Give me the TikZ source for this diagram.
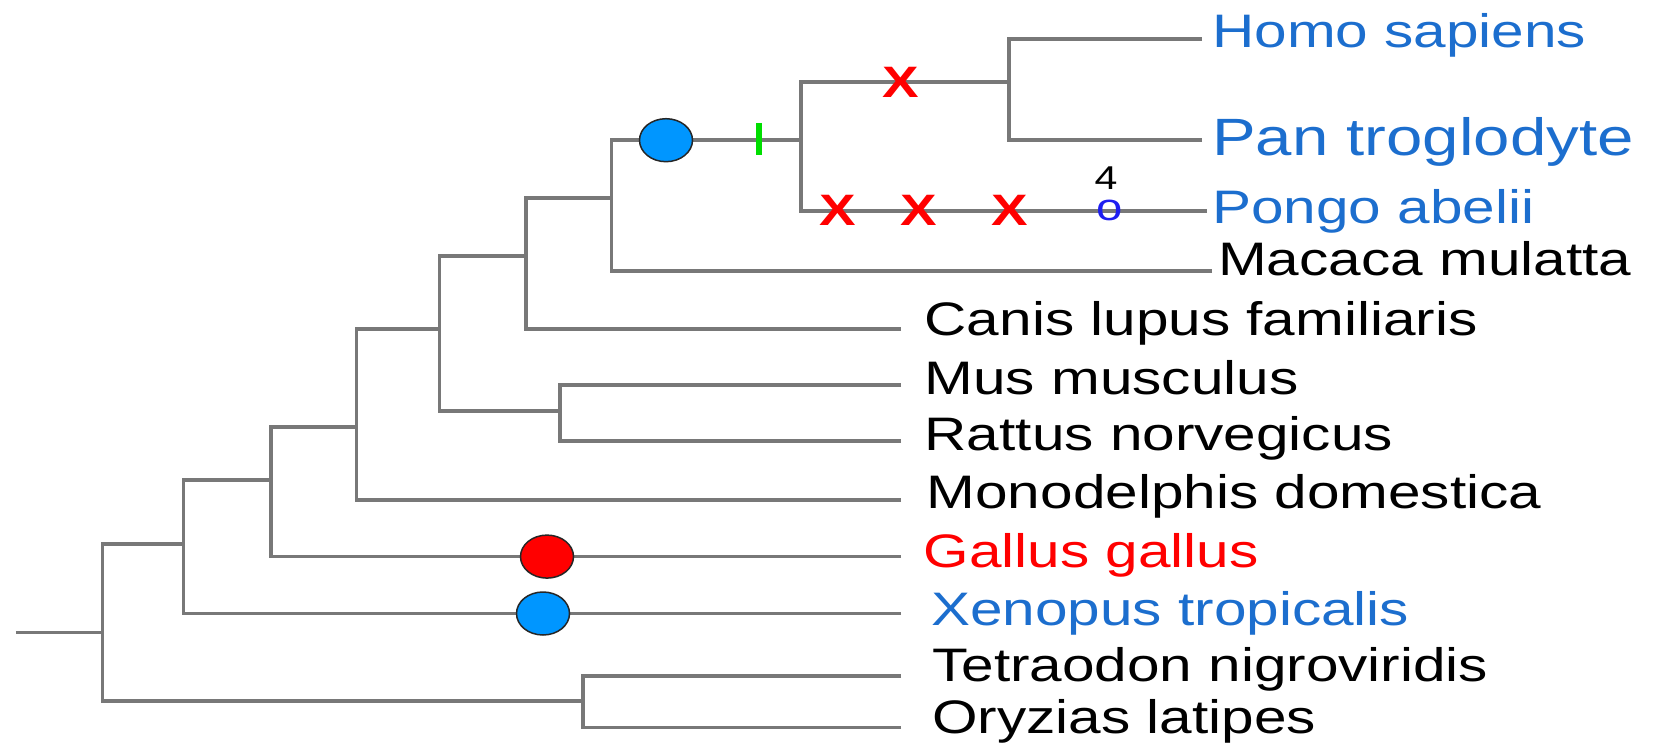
\documentclass[tikz,border=0pt]{standalone}
\usepackage{fontspec}
\setmainfont{Liberation Sans}
\usepackage{graphicx}
\usetikzlibrary{shapes.geometric}

\definecolor{treegray}{RGB}{120,120,120}
\definecolor{taxblue}{RGB}{28,110,206}
\definecolor{taxred}{RGB}{255,0,0}
\definecolor{gainblue}{RGB}{0,150,255}
\definecolor{tickgreen}{RGB}{0,222,0}
\definecolor{pointblue}{RGB}{30,30,240}

% labels are set a little wider than the font's natural width
\newcommand\widetext[1]{\scalebox{1.245}[1]{#1}}

\begin{document}
\begin{tikzpicture}[x=1pt,y=-1pt,
  branch/.style={draw=treegray, line width=3.6pt, line join=miter},
  taxon/.style={anchor=base west, inner sep=0pt, font=\fontsize{47}{47}\selectfont},
  bigtaxon/.style={taxon, font=\fontsize{52.5}{52.5}\selectfont},
  event/.style={ellipse, draw=black!85, line width=1.5pt, minimum width=53pt, minimum height=43pt, inner sep=0pt},
  lossmark/.style={inner sep=0pt, text=taxred, font=\fontsize{44}{44}\selectfont\bfseries},
  tickmark/.style={draw=tickgreen, line width=5.5pt}]
\useasboundingbox (0,0) rectangle (1653,743);

% internal nodes
\coordinate (r0) at (15.8,632.5);
\coordinate (n1) at (102.3,632.5);
\coordinate (n2) at (183.4,544);
\coordinate (n3) at (271,479.7);
\coordinate (n4) at (356.3,427);
\coordinate (n5) at (439.6,329);
\coordinate (n6) at (526,256);
\coordinate (n7) at (611.4,198.2);
\coordinate (n8) at (801.2,140.2);
\coordinate (n9) at (1008.9,82.2);
\coordinate (nr) at (559.8,411);
\coordinate (nf) at (583,701);

% leaf tips
\coordinate (homo) at (1202,39);
\coordinate (pan) at (1202,140.2);
\coordinate (pongo) at (1207,210.8);
\coordinate (macaca) at (1212,271);
\coordinate (canis) at (901,329);
\coordinate (mus) at (901,384.8);
\coordinate (rattus) at (901,440.7);
\coordinate (mono) at (901,499.7);
\coordinate (gallus) at (901,556.6);
\coordinate (xeno) at (901,613.5);
\coordinate (tetra) at (901,675.7);
\coordinate (oryz) at (901,727.4);

% branches
\draw[branch] (r0) -- (n1);
\draw[branch] (n2) -| (n1);
\draw[branch] (nf) -| (n1);
\draw[branch] (n3) -| (n2);
\draw[branch] (xeno) -| (n2);
\draw[branch] (n4) -| (n3);
\draw[branch] (gallus) -| (n3);
\draw[branch] (n5) -| (n4);
\draw[branch] (mono) -| (n4);
\draw[branch] (n6) -| (n5);
\draw[branch] (nr) -| (n5);
\draw[branch] (n7) -| (n6);
\draw[branch] (canis) -| (n6);
\draw[branch] (n8) -| (n7);
\draw[branch] (macaca) -| (n7);
\draw[branch] (n9) -| (n8);
\draw[branch] (pongo) -| (n8);
\draw[branch] (homo) -| (n9);
\draw[branch] (pan) -| (n9);
\draw[branch] (mus) -| (nr);
\draw[branch] (rattus) -| (nr);
\draw[branch] (tetra) -| (nf);
\draw[branch] (oryz) -| (nf);

% events on branches
\node[event, fill=gainblue] (gainprim) at (666,140.2) {};
\node[event, fill=taxred] (gaingal) at (547,556.6) {};
\node[event, fill=gainblue] (gainxen) at (543,613.5) {};
\draw[tickmark] (759,123) coordinate (tk1) -- (759,155) coordinate (tk2);
\node[lossmark] (x1) at (901,82.2) {\widetext{X}};
\node[lossmark] (x2) at (838,210.8) {\widetext{X}};
\node[lossmark] (x3) at (919,210.8) {\widetext{X}};
\node[lossmark] (x4) at (1010,210.8) {\widetext{X}};
\node[inner sep=0pt, text=pointblue, font=\fontsize{38}{38}\selectfont] (pt) at (1110,210) {\widetext{o}};
\node[inner sep=0pt, font=\fontsize{33}{33}\selectfont] (cnt) at (1106,178) {\widetext{4}};

% taxon names
\node[taxon, text=taxblue] (lhomo) at (1212,47.4) {\widetext{Homo sapiens}};
\node[bigtaxon, text=taxblue] (lpan) at (1212,156) {\widetext{Pan troglodyte}};
\node[taxon, text=taxblue] (lpongo) at (1212,223.5) {\widetext{Pongo abelii}};
\node[taxon] (lmacaca) at (1218,276) {\widetext{Macaca mulatta}};
\node[taxon] (lcanis) at (924.5,335) {\widetext{Canis lupus familiaris}};
\node[taxon] (lmus) at (924.5,394) {\widetext{Mus musculus}};
\node[taxon] (lrattus) at (924.5,450) {\widetext{Rattus norvegicus}};
\node[taxon] (lmono) at (926.5,508) {\widetext{Monodelphis domestica}};
\node[taxon, text=taxred] (lgallus) at (923.5,567) {\widetext{Gallus gallus}};
\node[taxon, text=taxblue] (lxeno) at (931,625) {\widetext{Xenopus tropicalis}};
\node[taxon] (ltetra) at (932,681) {\widetext{Tetraodon nigroviridis}};
\node[taxon] (loryz) at (932,733) {\widetext{Oryzias latipes}};
\end{tikzpicture}
\end{document}
